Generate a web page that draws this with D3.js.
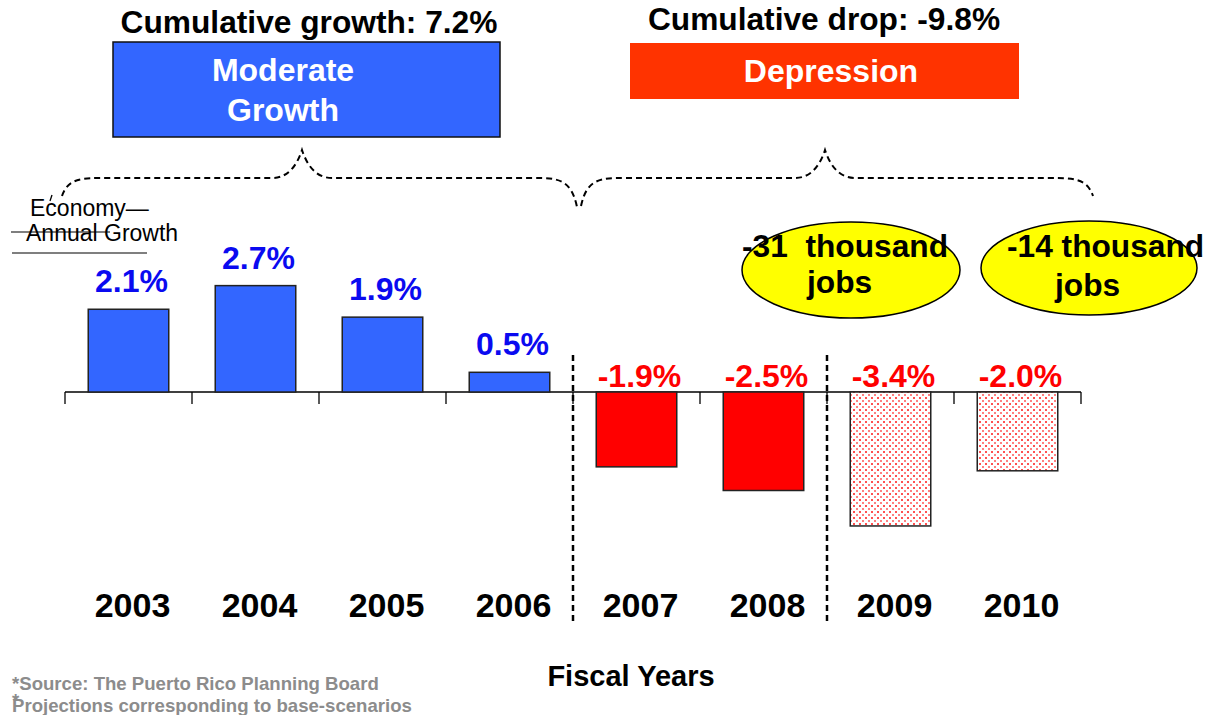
<!DOCTYPE html>
<html><head><meta charset="utf-8">
<script src="https://cdn.jsdelivr.net/npm/d3@7"></script>
<style>body{margin:0;background:#fff}svg{display:block;font-family:"Liberation Sans",Arial,sans-serif}</style>
</head><body><svg id="c" width="1219" height="715"></svg>
<script>
const years = ["2003","2004","2005","2006","2007","2008","2009","2010"];
const growth = [2.1, 2.7, 1.9, 0.5, -1.9, -2.5, -3.4, -2.0];
const labels = ["2.1%","2.7%","1.9%","0.5%","-1.9%","-2.5%","-3.4%","-2.0%"];
const projected = [false,false,false,false,false,false,true,true];
const periods = [
  {title:"Cumulative growth: 7.2%", box:["Moderate","Growth"], from:"2003", to:"2006"},
  {title:"Cumulative drop: -9.8%", box:["Depression"], from:"2007", to:"2010"}
];
const jobs = [{year:"2009", lines:["-31  thousand","jobs"]},{year:"2010", lines:["-14 thousand","jobs"]}];

const svg = d3.select("#c");
const defs = svg.append("defs");
const pat = defs.append("pattern").attr("id","dots").attr("patternUnits","userSpaceOnUse").attr("width",6).attr("height",6);
pat.append("rect").attr("width",6).attr("height",6).attr("fill","#fff");
pat.append("rect").attr("x",1).attr("y",1).attr("width",2).attr("height",2).attr("fill","#ff5050");
pat.append("rect").attr("x",4).attr("y",4).attr("width",2).attr("height",2).attr("fill","#ff8080");

const x = d3.scaleBand().domain(years).range([65,1081]).paddingInner(0.366).paddingOuter(0.183);
const y = d3.scaleLinear().domain([-4,3]).range([392+4*39.4, 392-3*39.4]);
const step = x.step();
const edge = i => 65 + i*step;

// axis line and ticks
svg.append("line").attr("x1",65).attr("x2",1081).attr("y1",y(0)).attr("y2",y(0)).attr("stroke","#000").attr("stroke-width",1.5);
svg.selectAll(".tk").data(d3.range(years.length+1)).enter().append("line")
  .attr("x1",edge).attr("x2",edge).attr("y1",y(0)).attr("y2",y(0)+12).attr("stroke","#000").attr("stroke-width",1.3);

// bars
svg.selectAll(".bar").data(years).enter().append("rect")
  .attr("x",d=>x(d)).attr("width",x.bandwidth())
  .attr("y",(d,i)=>y(Math.max(0,growth[i])))
  .attr("height",(d,i)=>Math.abs(y(growth[i])-y(0)))
  .attr("fill",(d,i)=>projected[i]?"url(#dots)":(growth[i]>=0?"#3366ff":"#ff0000"))
  .attr("stroke","#222").attr("stroke-width",1.5);

// value labels
svg.selectAll(".vl").data(years).enter().append("text")
  .attr("x",d=>x(d)+x.bandwidth()/2+3)
  .attr("y",(d,i)=>growth[i]>=0 ? y(growth[i])-17 : y(0)-5)
  .attr("text-anchor","middle").attr("font-weight","bold").attr("font-size",32)
  .attr("fill",(d,i)=>growth[i]>=0?"#0a0af0":"#ff0000")
  .text((d,i)=>labels[i]);

// category labels
svg.selectAll(".cl").data(years).enter().append("text")
  .attr("x",d=>x(d)+x.bandwidth()/2+4).attr("y",617)
  .attr("text-anchor","middle").attr("font-weight","bold").attr("font-size",34).attr("fill","#000")
  .text(d=>d);

// dashed separators
[4,6].forEach(i=>{
  svg.append("line").attr("x1",edge(i)).attr("x2",edge(i)).attr("y1",355).attr("y2",625)
    .attr("stroke","#000").attr("stroke-width",2.5).attr("stroke-dasharray","6,4");
});

// period titles, boxes and braces
const boxes = [{x:113,y:42,w:387,h:95,fill:"#3366ff",stroke:"#111",tx:283,ty:[81,121],cx:309,title:33},
               {x:630,y:43,w:389,h:56,fill:"#ff3300",stroke:"none",tx:831,ty:[82],cx:824,title:30}];
periods.forEach((p,k)=>{
  const b = boxes[k];
  svg.append("text").attr("x",b.cx).attr("y",b.title).attr("text-anchor","middle")
    .attr("font-weight","bold").attr("font-size",31.7).text(p.title);
  svg.append("rect").attr("x",b.x).attr("y",b.y).attr("width",b.w).attr("height",b.h)
    .attr("fill",b.fill).attr("stroke",b.stroke).attr("stroke-width",1.5);
  p.box.forEach((t,j)=>svg.append("text").attr("x",b.tx).attr("y",b.ty[j]).attr("text-anchor","middle")
    .attr("font-weight","bold").attr("font-size",32).attr("fill","#fff").text(t));
});
const braces = [
  {x0:62,y0:196,x1:577,y1:207,peak:302},
  {x0:581,y0:206,x1:1093,y1:196,peak:825}
];
braces.forEach(b=>{
  const fy=178, py=150;
  const path = `M${b.x0},${b.y0} C${b.x0+6},${fy} ${b.x0+20},${fy} ${b.x0+45},${fy} L${b.peak-30},${fy} C${b.peak-12},${fy} ${b.peak-4},${py+12} ${b.peak},${py} C${b.peak+4},${py+12} ${b.peak+12},${fy} ${b.peak+30},${fy} L${b.x1-45},${fy} C${b.x1-20},${fy} ${b.x1-6},${fy} ${b.x1},${b.y1}`;
  svg.append("path").attr("d",path).attr("fill","none").attr("stroke","#000").attr("stroke-width",2).attr("stroke-dasharray","6,4");
});

// job ellipses
const ell = [{cx:851,cy:270,rx:109,ry:48,lx:[742,807],ly:[257,293]},{cx:1089,cy:268,rx:108,ry:47,lx:[1007,1055],ly:[257,296]}];
jobs.forEach((j,k)=>{
  const e = ell[k];
  svg.append("ellipse").attr("cx",e.cx).attr("cy",e.cy).attr("rx",e.rx).attr("ry",e.ry)
    .attr("fill","#ffff00").attr("stroke","#000").attr("stroke-width",1.5);
  j.lines.forEach((t,i)=>svg.append("text").attr("x",e.lx[i]).attr("y",e.ly[i]).attr("xml:space","preserve")
    .style("white-space","pre").attr("font-weight","bold").attr("font-size",31.7).text(t));
});

// y label
svg.append("text").attr("x",30).attr("y",216).attr("font-size",23).text("Economy—");
svg.append("path").attr("d","M52,195 L50,201").attr("stroke","#000").attr("stroke-width",1.3);
svg.append("text").attr("x",26).attr("y",241).attr("font-size",23).text("Annual Growth");
svg.append("line").attr("x1",11).attr("x2",110).attr("y1",232).attr("y2",232).attr("stroke","#000").attr("stroke-width",1.2);
svg.append("line").attr("x1",12).attr("x2",147).attr("y1",253).attr("y2",253).attr("stroke","#000").attr("stroke-width",1.2);

// axis title
svg.append("text").attr("x",631).attr("y",686).attr("text-anchor","middle").attr("font-weight","bold").attr("font-size",29).text("Fiscal Years");

// footnotes
svg.append("text").attr("x",12).attr("y",690).attr("font-weight","bold").attr("font-size",18.6).attr("fill","#8c8c8c").text("*Source: The Puerto Rico Planning Board");
const fn2 = svg.append("text").attr("x",12).attr("y",712).attr("font-weight","bold").attr("font-size",18.6).attr("fill","#8c8c8c");
fn2.append("tspan").attr("dy",-5).text("*");
fn2.append("tspan").attr("x",12).attr("dy",5).text("Projections corresponding to base-scenarios");
</script></body></html>
